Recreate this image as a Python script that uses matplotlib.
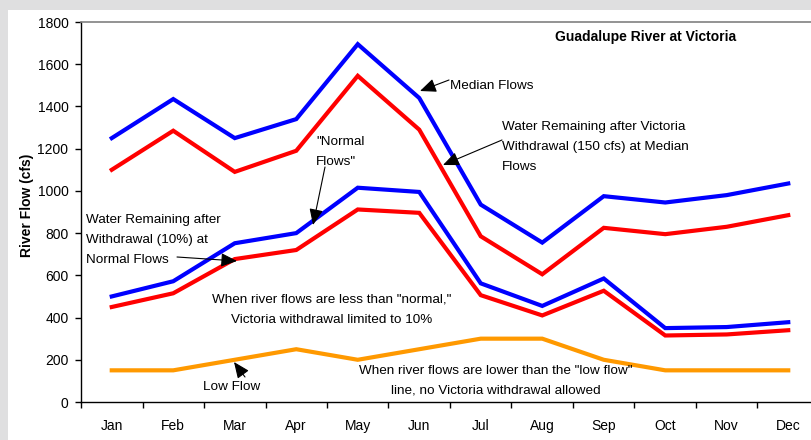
import matplotlib
matplotlib.use("Agg")
import matplotlib.pyplot as plt
from matplotlib.patches import Rectangle

months = ["Jan", "Feb", "Mar", "Apr", "May", "Jun", "Jul", "Aug", "Sep", "Oct", "Nov", "Dec"]
median_flows = [1250, 1435, 1250, 1340, 1695, 1440, 935, 755, 975, 945, 980, 1035]
median_after = [1100, 1285, 1090, 1190, 1545, 1290, 785, 605, 825, 795, 830, 885]
normal_flows = [500, 572, 752, 800, 1015, 995, 562, 455, 585, 350, 355, 378]
normal_after = [450, 515, 677, 720, 912, 896, 506, 410, 527, 315, 320, 340]
low_flow = [150, 150, 200, 250, 200, 250, 300, 300, 200, 150, 150, 150]
y_ticks = [0, 200, 400, 600, 800, 1000, 1200, 1400, 1600, 1800]

plt.rcParams['font.family'] = ['Liberation Sans', 'DejaVu Sans']

W, H = 811, 440
fig = plt.figure(figsize=(W / 100, H / 100), dpi=100)
fig.patch.set_facecolor('#dfdfe0')
fig.patches.append(Rectangle((8 / W, 0), 1, (H - 10) / H, transform=fig.transFigure,
                             facecolor='white', edgecolor='none', zorder=-10))

ax_l, ax_r, ax_t, ax_b = 81, 819, 22, 402
ax = fig.add_axes([ax_l / W, (H - ax_b) / H, (ax_r - ax_l) / W, (ax_b - ax_t) / H])
ax.set_facecolor('none')

x = list(range(len(months)))
lw = 3.0
ax.plot(x, median_flows, color='#0000ff', lw=lw, solid_joinstyle='miter', zorder=3)
ax.plot(x, median_after, color='#ff0000', lw=lw, solid_joinstyle='miter', zorder=3)
ax.plot(x, normal_flows, color='#0000ff', lw=lw, solid_joinstyle='miter', zorder=3)
ax.plot(x, normal_after, color='#ff0000', lw=lw, solid_joinstyle='miter', zorder=3)
ax.plot(x, low_flow, color='#ff9900', lw=lw, solid_joinstyle='miter', zorder=3)

ax.set_xlim(-0.5, 11.5)
ax.set_ylim(0, 1800)
ax.set_yticks(y_ticks)
ax.set_yticklabels([str(v) for v in y_ticks])
ax.set_xticks([i - 0.5 for i in range(13)])
ax.set_xticklabels([])
ax.set_xticks(x, minor=True)
ax.set_xticklabels(months, minor=True)
ax.tick_params(axis='x', which='major', direction='out', length=4, width=1, color='black')
ax.tick_params(axis='x', which='minor', length=0, pad=12, labelsize=10)
ax.tick_params(axis='y', direction='out', length=4, width=1, pad=5, labelsize=10)

for s in ['left', 'bottom']:
    ax.spines[s].set_color('black')
    ax.spines[s].set_linewidth(1)
ax.spines['top'].set_color('#808080')
ax.spines['top'].set_linewidth(1.2)
ax.spines['right'].set_visible(False)

fig.text(27 / W, (H - 205) / H, "River Flow (cfs)", rotation=90, fontsize=10,
         fontweight='bold', ha='center', va='center')
fig.text(555 / W, (H - 37) / H, "Guadalupe River at Victoria", fontsize=10,
         fontweight='bold', ha='left', va='center')


def px2data(px, py):
    return ((px - ax_l) / ((ax_r - ax_l) / 12) - 0.5, (ax_b - py) / ((ax_b - ax_t) / 1800))


arrow = dict(arrowstyle='-|>,head_length=0.7,head_width=0.3', color='black', lw=0.8,
             shrinkA=0, shrinkB=0, mutation_scale=14)
fs = 9.7
ls = 1.88


def note(text, tip, tail, tx, ty, ha='left'):
    ax.annotate('', xy=px2data(*tip), xytext=px2data(*tail), arrowprops=arrow, zorder=5)
    ax.text(*px2data(tx, ty), text, fontsize=fs, ha=ha, va='top', linespacing=ls, zorder=5)


# Median Flows
note("Median Flows", (420, 91), (449, 80), 450, 80)
# Water remaining at median
note("Water Remaining after Victoria\nWithdrawal (150 cfs) at Median\nFlows", (443, 165), (502, 140), 502, 121)
# Normal flows
note("\"Normal\nFlows\"", (313, 225), (325, 167), 316, 136)
# Water remaining at normal
note("Water Remaining after\nWithdrawal (10%) at\nNormal Flows", (237, 261), (177, 257), 86, 214)
# Low flow
note("Low Flow", (234, 362), (245, 377), 232, 381, ha='center')

ax.text(*px2data(332, 294), "When river flows are less than \"normal,\"\nVictoria withdrawal limited to 10%",
        fontsize=fs, ha='center', va='top', linespacing=ls, zorder=5)
ax.text(*px2data(496, 365), "When river flows are lower than the \"low flow\"\nline, no Victoria withdrawal allowed",
        fontsize=fs, ha='center', va='top', linespacing=ls, zorder=5)

fig.savefig("out.png", dpi=100)
